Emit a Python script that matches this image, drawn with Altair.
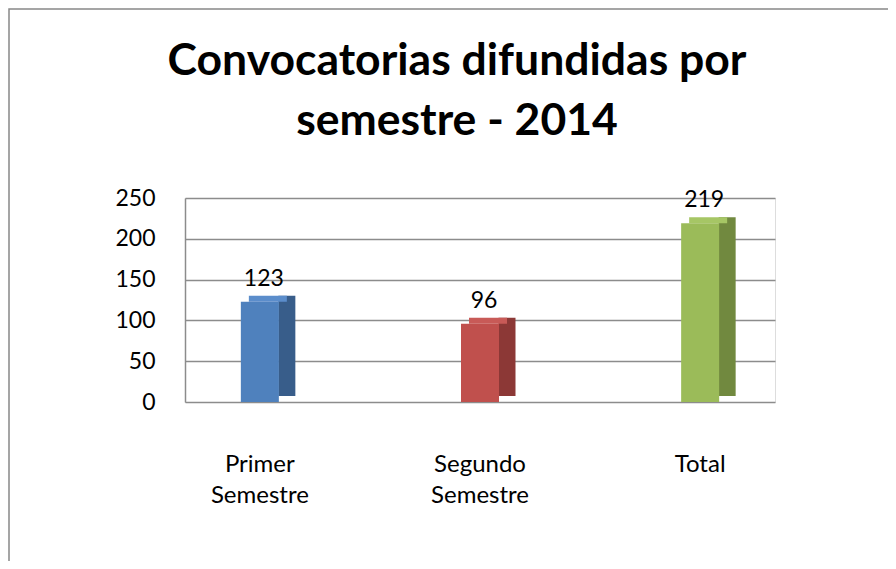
import altair as alt
import pandas as pd

categories = ["Primer Semestre", "Segundo Semestre", "Total"]
values = [123, 96, 219]
y_ticks = [0, 50, 100, 150, 200, 250]
title_lines = ["Convocatorias difundidas por", "semestre - 2014"]

front_colors = ["#4F81BD", "#C0504D", "#9BBB59"]
side_colors = ["#385D8A", "#8C3836", "#71893F"]
top_colors = ["#5B8DCB", "#C85A57", "#A6C665"]

df = pd.DataFrame({"cat": categories, "val": values})
FONT = "Lato"

x_enc = alt.X(
    "cat:N",
    sort=categories,
    scale=alt.Scale(paddingInner=0.6, paddingOuter=0.14),
    axis=alt.Axis(
        title=None,
        labelAngle=0,
        labelExpr="split(datum.label, ' ')",
        labelFontSize=24,
        labelFont=FONT,
        labelColor="#000000",
        labelLineHeight=31,
        labelPadding=50,
        ticks=False,
        domain=False,
    ),
)
y_enc = alt.Y(
    "val:Q",
    scale=alt.Scale(domain=[0, 250]),
    axis=alt.Axis(
        title=None,
        values=y_ticks,
        labelFontSize=23,
        labelFont=FONT,
        labelColor="#000000",
        labelPadding=30,
        ticks=False,
        grid=True,
        gridColor="#8c8c8c",
        gridWidth=1.5,
        domainColor="#8c8c8c",
        domainWidth=1.5,
    ),
)

base = alt.Chart(df)

side = base.mark_bar(width=17, xOffset=27, yOffset=-6, y2Offset=-6).encode(
    x=x_enc,
    y=y_enc,
    color=alt.Color("cat:N", scale=alt.Scale(domain=categories, range=side_colors), legend=None),
)
top = base.mark_rect(width=38, xOffset=8, yOffset=-6, y2Offset=0).encode(
    x=x_enc,
    y=alt.Y("val:Q", scale=alt.Scale(domain=[0, 250])),
    y2="val:Q",
    color=alt.Color("cat:N", scale=alt.Scale(domain=categories, range=top_colors), legend=None),
)
front = base.mark_bar(width=38).encode(
    x=x_enc,
    y=y_enc,
    color=alt.Color("cat:N", scale=alt.Scale(domain=categories, range=front_colors), legend=None),
)
labels = base.mark_text(
    baseline="alphabetic", dy=-16, dx=4, fontSize=23, font=FONT, color="#000000"
).encode(x=x_enc, y=y_enc, text="val:Q")

border = alt.Chart(pd.DataFrame({"a": [0]})).mark_rect(
    fill=None, stroke="#888888", strokeWidth=1.5
).encode(
    x=alt.value(-176), x2=alt.value(2000), y=alt.value(-189), y2=alt.value(2000)
)

title1 = alt.Chart(pd.DataFrame({"t": [title_lines[0]]})).mark_text(
    fontSize=44.5, font=FONT, fontWeight="bold", color="#000000",
    align="center", baseline="alphabetic",
).encode(text="t:N", x=alt.value(272), y=alt.value(-123))
title2 = alt.Chart(pd.DataFrame({"t": [title_lines[1]]})).mark_text(
    fontSize=44.5, font=FONT, fontWeight="bold", color="#000000",
    align="center", baseline="alphabetic",
).encode(text="t:N", x=alt.value(272), y=alt.value(-63))

chart = (
    alt.layer(border, title1, title2, side, top, front, labels)
    .resolve_scale(color="independent")
    .properties(
        width=590,
        height=204,
        padding={"left": 177, "top": 190, "right": 113, "bottom": 159},
        autosize=alt.AutoSizeParams(type="none"),
    )
    .configure_view(stroke=None)
    .configure(background="#ffffff")
)

chart.save("out.html", embed_options={"renderer": "svg", "actions": False})
